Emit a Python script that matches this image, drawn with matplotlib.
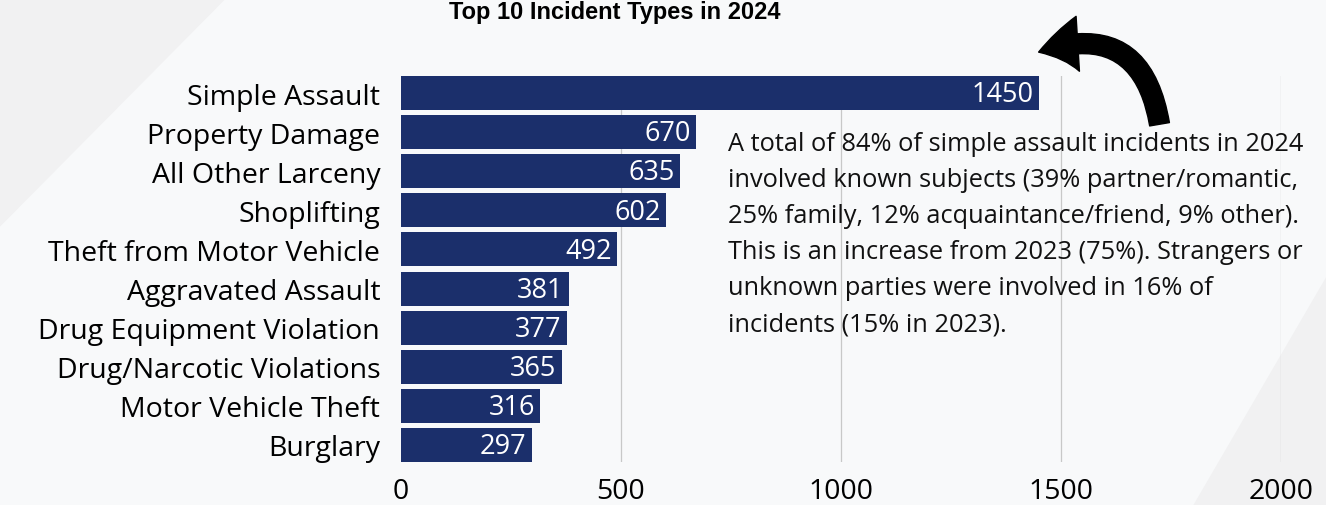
import matplotlib
matplotlib.use("Agg")
import matplotlib.pyplot as plt
from matplotlib import patches

categories = ["Simple Assault", "Property Damage", "All Other Larceny", "Shoplifting",
              "Theft from Motor Vehicle", "Aggravated Assault", "Drug Equipment Violation",
              "Drug/Narcotic Violations", "Motor Vehicle Theft", "Burglary"]
counts = [1450, 670, 635, 602, 492, 381, 377, 365, 316, 297]
xticks = [0, 500, 1000, 1500, 2000]

note = ("A total of 84% of simple assault incidents in 2024\n"
        "involved known subjects (39% partner/romantic,\n"
        "25% family, 12% acquaintance/friend, 9% other).\n"
        "This is an increase from 2023 (75%). Strangers or\n"
        "unknown parties were involved in 16% of\n"
        "incidents (15% in 2023).")

plt.rcParams['font.family'] = ['Open Sans', 'DejaVu Sans']
bar_color = '#1b2f6b'

fig = plt.figure(figsize=(13.26, 5.06), dpi=100)
fig.patch.set_facecolor('#f1f1f2')
# lighter diagonal band in the background
bg = patches.Polygon([[0.17, 1], [1, 1], [1, 0.45], [0.9, 0], [0.0, 0.0], [0.0, 0.55]],
                     closed=True, transform=fig.transFigure,
                     facecolor='#f8f9fa', edgecolor='none', zorder=-5)
fig.patches.append(bg)

ax = fig.add_axes([401 / 1326, 1 - 463 / 506, 880 / 1326, 386 / 506])
ax.set_facecolor('none')
h = 0.87
ypos = range(len(categories))
ax.barh(ypos, counts, height=h, color=bar_color, zorder=2)
for y, v in zip(ypos, counts):
    ax.text(v - 12, y + 0.03, str(v), color='white', ha='right', va='center', fontsize=19.5, zorder=3)

ax.set_ylim(len(categories) - 1 + h / 2, -h / 2)
ax.set_xlim(0, 2000)
ax.set_yticks(list(ypos))
ax.set_yticklabels(categories, fontsize=20.5)
ax.set_xticks(xticks)
ax.set_xticklabels([str(t) for t in xticks], fontsize=20.5)
ax.tick_params(length=0, pad=11)
ax.tick_params(axis='y', pad=15)
for s in ax.spines.values():
    s.set_visible(False)
for t in xticks[1:]:
    ax.axvline(t, color='#c8c8c8', lw=0.9, zorder=1)

fig.text(615 / 1326, 0.999, "Top 10 Incident Types in 2024", ha='center', va='top',
         fontsize=17, fontweight='bold', family=['Liberation Sans', 'DejaVu Sans'])

fig.text(728 / 1326, 1 - 132 / 506, note, ha='left', va='top', fontsize=18.3,
         linespacing=1.58, color='#111111')

arrow = patches.FancyArrowPatch((1160 / 1326, 1 - 128 / 506), (1036 / 1326, 1 - 54 / 506),
                                transform=fig.transFigure,
                                connectionstyle='arc3,rad=0.6',
                                arrowstyle='simple,head_width=2.2,head_length=1.6,tail_width=0.8',
                                mutation_scale=18, color='black', zorder=5)
fig.patches.append(arrow)

fig.savefig('out.png', dpi=100, facecolor=fig.get_facecolor())
